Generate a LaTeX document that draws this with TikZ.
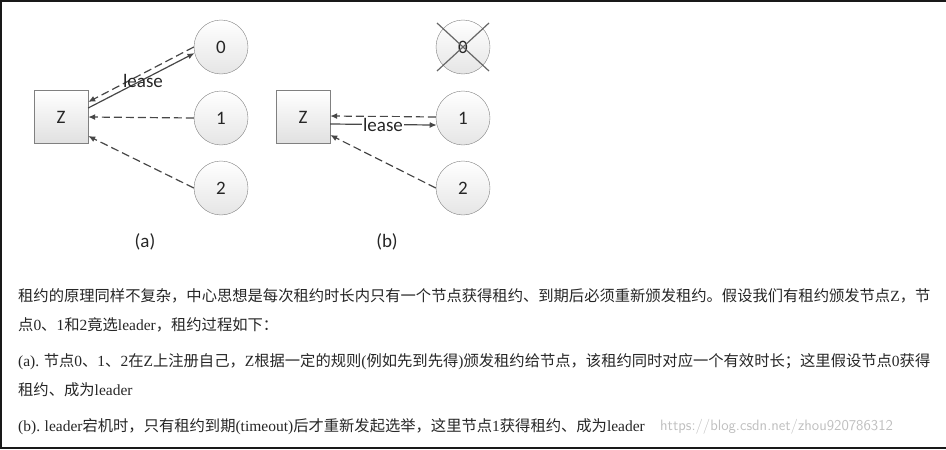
\documentclass[tikz,border=0pt]{standalone}
\usepackage{fontspec}
\setmainfont{Liberation Serif}
\newfontfamily\diag{Carlito}
\newfontfamily\cjk{Noto Sans CJK SC}
\usetikzlibrary{arrows.meta}
\newcommand{\latn}[1]{{\rmfamily\fontsize{15.5}{18}\selectfont #1}}

\begin{document}
\begin{tikzpicture}[
    x=1pt, y=-1pt,
    server/.style={draw=black!50, top color=white, bottom color=black!12,
        minimum width=54pt, minimum height=53pt, inner sep=0pt,
        text=black!85, font=\diag\fontsize{19}{22}\selectfont},
    peer/.style={circle, draw=black!50, top color=white, bottom color=black!10,
        minimum size=54pt, inner sep=0pt,
        text=black!85, font=\diag\fontsize{19}{22}\selectfont},
    grant/.style={draw=black!72, line width=1.2pt, -{Latex[length=7pt,width=6pt]}},
    vote/.style={grant, dash pattern=on 8pt off 4pt},
    tag/.style={text=black!85, inner sep=1pt, font=\diag\fontsize{19}{22}\selectfont},
    para/.style={anchor=west, inner sep=0pt, text=black!85,
        font=\cjk\fontsize{15.3}{18}\selectfont},
    frame/.style={draw=black!90, line width=2pt}
]
    \useasboundingbox (0,0) rectangle (946,450);
    \draw[frame] (946,1) -- (1,1) -- (1,448) -- (946,448);

    % (a)
    \node[server] (za) at (61,117) {Z};
    \node[peer] (a0) at (221,47) {0};
    \node[peer] (a1) at (221,118) {1};
    \node[peer] (a2) at (221,188) {2};
    \draw[vote] (a0.west) -- ([yshift=15pt]za.east);
    \draw[grant] ([yshift=9pt]za.east) -- (a0.193);
    \draw[vote] (a1.west) -- (za.east);
    \draw[vote] (a2.west) -- ([yshift=-19pt]za.east);
    \node[tag] (la) at (143,81) {lease};
    \node[tag] (capa) at (145,242) {(a)};

    % (b)
    \node[server] (zb) at (303,117) {Z};
    \node[peer] (b0) at (463,47) {0};
    \node[peer] (b1) at (463,118) {1};
    \node[peer] (b2) at (463,188) {2};
    \draw[draw=black!60, line width=1.2pt] (437,23) -- (489,71) (437,71) -- (489,23);
    \draw[vote] ([yshift=1pt]b1.west) -- ([yshift=1pt]zb.east);
    \draw[grant] ([yshift=-7pt]zb.east) -- (b1.195);
    \draw[vote] (b2.west) -- ([yshift=-18pt]zb.east);
    \node[tag, fill=white] (lb) at (383,125) {lease};
    \node[tag] (capb) at (387,242) {(b)};

    % text
    \node[para] (t1) at (18,296) {租约的原理同样不复杂，中心思想是每次租约时长内只有一个节点获得租约、到期后必须重新颁发租约。假设我们有租约颁发节点\latn{Z}，节};
    \node[para] (t2) at (18,325) {点\latn{0}、\latn{1}和\latn{2}竟选\latn{leader}，租约过程如下：};
    \node[para] (t3) at (18,362) {\latn{(a).} 节点\latn{0}、\latn{1}、\latn{2}在\latn{Z}上注册自己，\latn{Z}根据一定的规则\latn{(}例如先到先得\latn{)}颁发租约给节点，该租约同时对应一个有效时长；这里假设节点\latn{0}获得};
    \node[para] (t4) at (18,390) {租约、成为\latn{leader}};
    \node[para] (t5) at (18,427) {\latn{(b).} \latn{leader}宕机时，只有租约到期\latn{(timeout)}后才重新发起选举，这里节点\latn{1}获得租约、成为\latn{leader}};
    \node[para, text=black!25, font=\sffamily\fontsize{15}{18}\selectfont] (wm) at (660,427) {https://blog.csdn.net/zhou920786312};
\end{tikzpicture}
\end{document}
